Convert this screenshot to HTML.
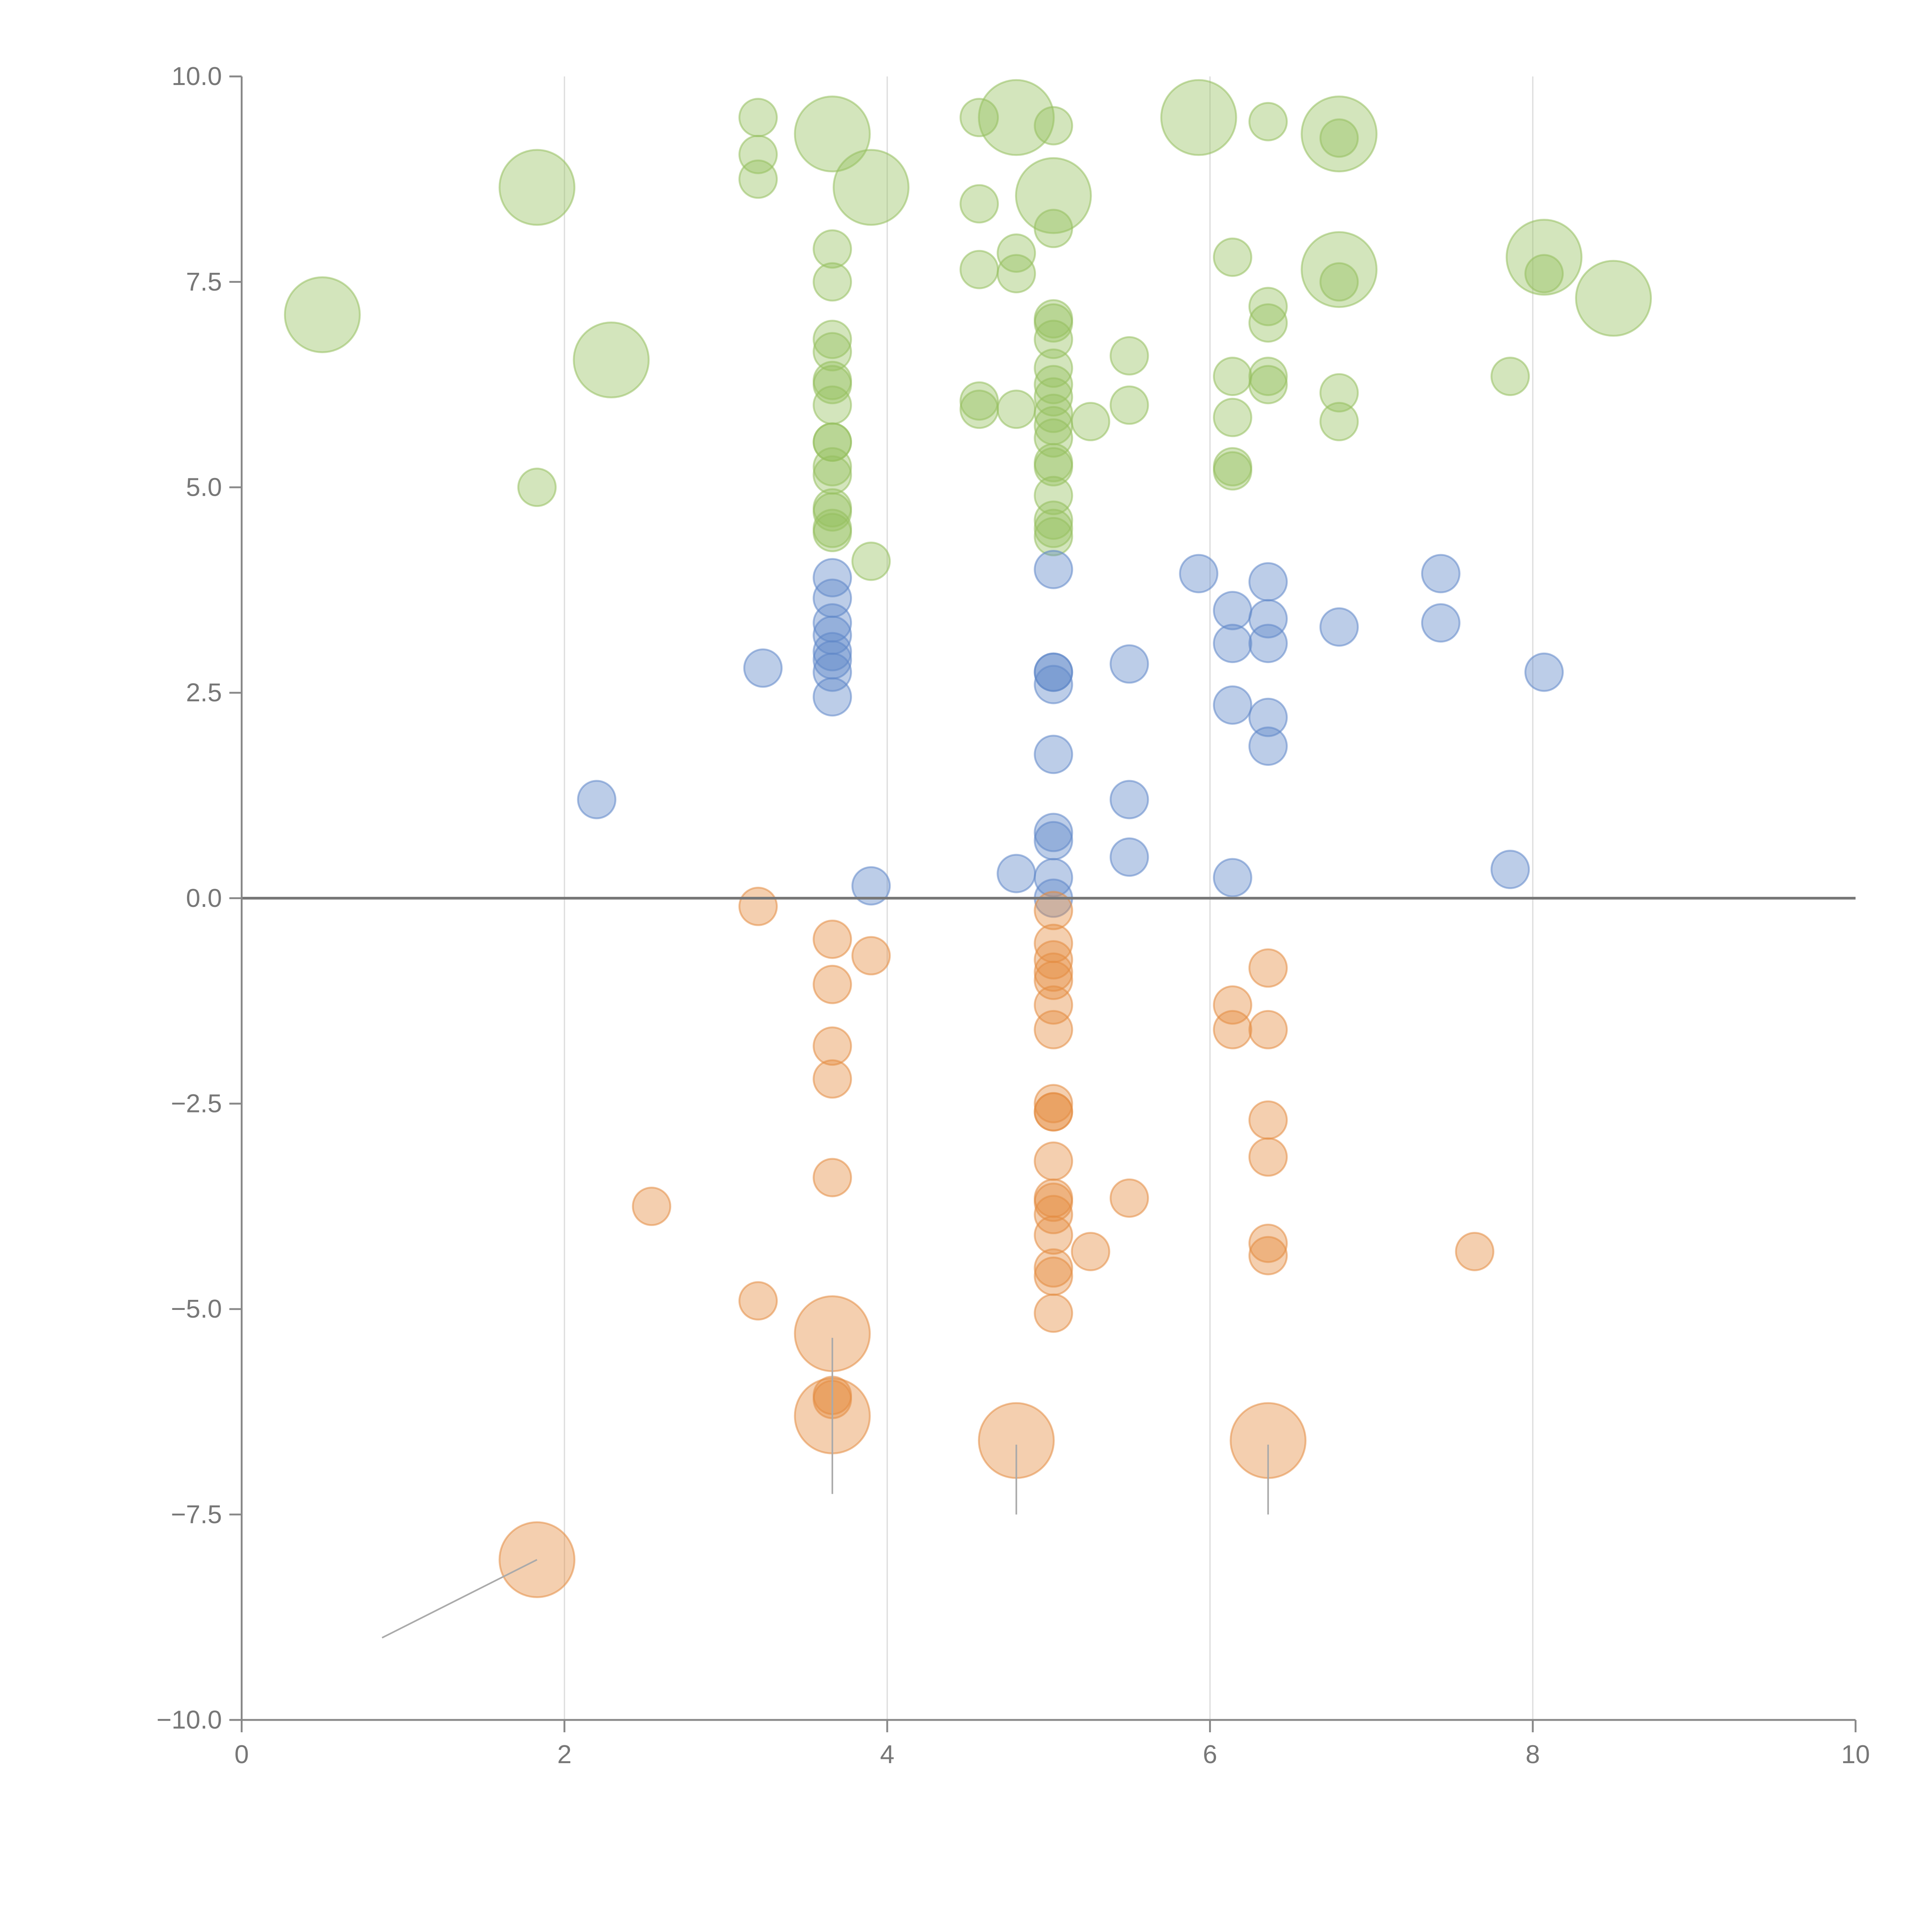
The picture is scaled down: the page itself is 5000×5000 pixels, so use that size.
<!DOCTYPE html>
<html><head><meta charset="utf-8"><style>html,body{margin:0;padding:0;background:#fff}svg{display:block}</style></head>
<body>
<svg id="chart" width="5000" height="5000" viewBox="0 0 1567 1567" xmlns="http://www.w3.org/2000/svg" font-family="'Liberation Sans', sans-serif">
<g id="grid"></g>
<g id="marks"></g>
<g id="axes"></g>
</svg>
<script>
const xTicks=[0,2,4,6,8,10];
const yTicks=[-10,-7.5,-5,-2.5,0,2.5,5,7.5,10];
const yTickLabels=["\u221210.0","\u22127.5","\u22125.0","\u22122.5","0.0","2.5","5.0","7.5","10.0"];
const greenX=[0.5,1.83,2.29,3.66,3.9,4.8,5.03,5.93,6.8,6.8,8.07,8.5,1.83,3.2,3.2,3.2,3.66,3.66,3.66,3.66,3.66,3.66,3.66,3.66,3.66,3.66,3.66,3.66,3.66,3.66,3.66,3.9,4.57,4.57,4.57,4.57,4.57,4.8,4.8,4.8,5.03,5.03,5.03,5.03,5.03,5.03,5.03,5.03,5.03,5.03,5.03,5.03,5.03,5.03,5.03,5.03,5.03,5.26,5.5,5.5,6.14,6.14,6.14,6.14,6.14,6.36,6.36,6.36,6.36,6.36,6.8,6.8,6.8,6.8,7.86,8.07];
const greenY=[7.1,8.65,6.55,9.3,8.65,9.5,8.55,9.5,9.3,7.65,7.8,7.3,5.0,9.5,9.05,8.75,7.9,7.5,6.8,6.65,6.3,6.25,6.0,5.55,5.55,5.25,5.15,4.75,4.7,4.5,4.45,4.1,9.5,8.45,7.65,6.05,5.95,7.85,7.6,5.95,9.4,8.15,7.05,7.0,6.8,6.45,6.25,6.1,5.9,5.75,5.6,5.3,5.25,4.9,4.6,4.5,4.4,5.8,6.6,6.0,7.8,6.35,5.85,5.25,5.2,9.45,7.2,7.0,6.35,6.25,9.25,7.5,6.15,5.8,6.35,7.6];
const greenSize=[4,4,4,4,4,4,4,4,4,4,4,4,1,1,1,1,1,1,1,1,1,1,1,1,1,1,1,1,1,1,1,1,1,1,1,1,1,1,1,1,1,1,1,1,1,1,1,1,1,1,1,1,1,1,1,1,1,1,1,1,1,1,1,1,1,1,1,1,1,1,1,1,1,1,1,1];
const blueX=[2.2,3.23,3.66,3.66,3.66,3.66,3.66,3.66,3.66,3.66,3.9,4.8,5.03,5.03,5.03,5.03,5.03,5.03,5.03,5.03,5.03,5.5,5.5,5.5,5.93,6.14,6.14,6.14,6.14,6.36,6.36,6.36,6.36,6.36,6.8,7.43,7.43,7.86,8.07];
const blueY=[1.2,2.8,3.9,3.65,3.35,3.2,3.0,2.9,2.75,2.45,0.15,0.3,4.0,2.75,2.75,2.6,1.75,0.8,0.7,0.25,0.0,2.85,1.2,0.5,3.95,3.5,3.1,2.35,0.25,3.85,3.4,3.1,2.2,1.85,3.3,3.95,3.35,0.35,2.75];
const orangeX=[1.83,3.66,3.66,4.8,6.36,2.54,3.2,3.2,3.66,3.66,3.66,3.66,3.66,3.66,3.66,3.9,5.03,5.03,5.03,5.03,5.03,5.03,5.03,5.03,5.03,5.03,5.03,5.03,5.03,5.03,5.03,5.03,5.03,5.03,5.26,5.5,6.14,6.14,6.36,6.36,6.36,6.36,6.36,6.36,7.64];
const orangeY=[-8.05,-5.3,-6.3,-6.6,-6.6,-3.75,-0.1,-4.9,-0.5,-1.05,-1.8,-2.2,-3.4,-6.05,-6.1,-0.7,-0.15,-0.55,-0.75,-0.9,-1.0,-1.3,-1.6,-2.5,-2.6,-2.6,-3.2,-3.65,-3.7,-3.85,-4.1,-4.5,-4.6,-5.05,-4.3,-3.65,-1.3,-1.6,-0.85,-1.6,-2.7,-3.15,-4.2,-4.35,-4.3];
const orangeSize=[4,4,4,4,4,1,1,1,1,1,1,1,1,1,1,1,1,1,1,1,1,1,1,1,1,1,1,1,1,1,1,1,1,1,1,1,1,1,1,1,1,1,1,1,1];
const leaderX1=[1.83,3.66,4.8,6.36],leaderY1=[-8.05,-5.35,-6.65,-6.65],leaderX2=[0.87,3.66,4.8,6.36],leaderY2=[-9.0,-7.25,-7.5,-7.5];

const NS="http://www.w3.org/2000/svg";
const X0=196,X1=1505,Y0=1395,Y1=62;
const sx=v=>X0+(v-0)/10*(X1-X0);
const sy=v=>Y0-(v+10)/20*(Y0-Y1);
function mk(tag,attrs,parent){const e=document.createElementNS(NS,tag);for(const k in attrs)e.setAttribute(k,attrs[k]);parent.appendChild(e);return e;}
const grid=document.getElementById('grid'),marks=document.getElementById('marks'),axes=document.getElementById('axes');
xTicks.forEach(t=>{if(t>0&&t<10){const l=mk('line',{x1:sx(t),x2:sx(t),y1:Y1,y2:Y0,stroke:'#dcdcdc','stroke-width':1},grid);

}});
function series(xs,ys,ss,fill,name){xs.forEach((x,i)=>{const s=ss?ss[i]:1;const c=mk('circle',{cx:sx(x),cy:sy(ys[i]),r:15.2*Math.sqrt(s),fill:fill,'fill-opacity':0.42,stroke:fill,'stroke-opacity':0.55,'stroke-width':1.5},marks);

});}
series(greenX,greenY,greenSize,'rgb(150,192,95)','green-bubble');
series(blueX,blueY,null,'rgb(95,135,200)','blue-bubble');
series(orangeX,orangeY,orangeSize,'rgb(228,140,65)','orange-bubble');
leaderX1.forEach((x,i)=>{const l=mk('line',{x1:sx(x),y1:sy(leaderY1[i]),x2:sx(leaderX2[i]),y2:sy(leaderY2[i]),stroke:'#aaa','stroke-width':1.3},marks);

});
const zl=mk('line',{x1:X0,x2:X1,y1:sy(0),y2:sy(0),stroke:'#777','stroke-width':2.2},axes);


const ya=mk('line',{x1:X0,x2:X0,y1:Y1,y2:Y0,stroke:'#888','stroke-width':1.5},axes);


const xa=mk('line',{x1:X0,x2:X1,y1:Y0,y2:Y0,stroke:'#888','stroke-width':1.5},axes);


yTicks.forEach((t,i)=>{mk('line',{x1:X0-10,x2:X0,y1:sy(t),y2:sy(t),stroke:'#888','stroke-width':1.5},axes);
const tx=mk('text',{x:X0-16,y:sy(t)+7,'text-anchor':'end','font-size':21,fill:'#777'},axes);tx.textContent=yTickLabels[i];

});
xTicks.forEach(t=>{mk('line',{x1:sx(t),x2:sx(t),y1:Y0,y2:Y0+10,stroke:'#888','stroke-width':1.5},axes);
const tx=mk('text',{x:sx(t),y:Y0+35,'text-anchor':'middle','font-size':21,fill:'#777'},axes);tx.textContent=String(t);

});
</script>
</body></html>
